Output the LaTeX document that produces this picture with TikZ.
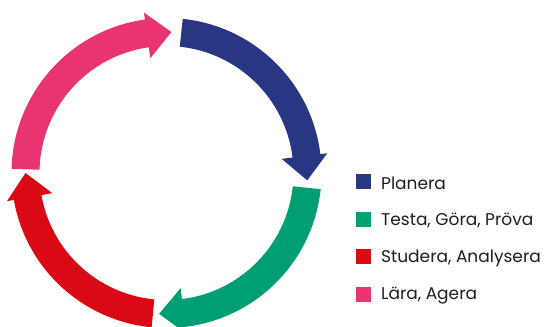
\documentclass[tikz,border=0pt]{standalone}
\usepackage{fontspec}
\setmainfont{Poppins}
\definecolor{cblue}{RGB}{41,54,132}
\definecolor{cgreen}{RGB}{0,158,115}
\definecolor{cred}{RGB}{218,10,20}
\definecolor{cpink}{RGB}{232,52,112}
\definecolor{ctext}{RGB}{30,30,30}
\begin{document}
\begin{tikzpicture}[x=1pt,y=1pt,
  legsq/.style={minimum size=15pt,inner sep=0pt,draw=none},
  legtxt/.style={anchor=west,inner sep=0pt,text=ctext,font=\fontsize{17}{20}\selectfont}]
\useasboundingbox (0,0) rectangle (547,327);
\begin{scope}[shift={(166.5pt,154pt)}]
\foreach \t/\b/\p/\c in {84/7/-3/cblue, -6/-83/-93/cgreen, -95.5/-170/-180/cred, 178.5/98/88/cpink}{
  \fill[\c] (\t:155pt) arc[start angle=\t, end angle=\b, radius=155pt]
    -- (\b:162pt) -- (\p:141pt) -- (\b:116pt) -- (\b:127pt)
    arc[start angle=\b, end angle=\t, radius=127pt] -- cycle;
}
\end{scope}
\node[legsq,fill=cblue] (s1) at (363,145) {};
\node[legsq,fill=cgreen] (s2) at (363,107.5) {};
\node[legsq,fill=cred] (s3) at (363,70) {};
\node[legsq,fill=cpink] (s4) at (363,32.5) {};
\node[legtxt] (t1) at (381,144) {Planera};
\node[legtxt] (t2) at (381,106.5) {Testa, Göra, Pröva};
\node[legtxt] (t3) at (381,69) {Studera, Analysera};
\node[legtxt] (t4) at (381,31.5) {Lära, Agera};
\end{tikzpicture}
\end{document}
